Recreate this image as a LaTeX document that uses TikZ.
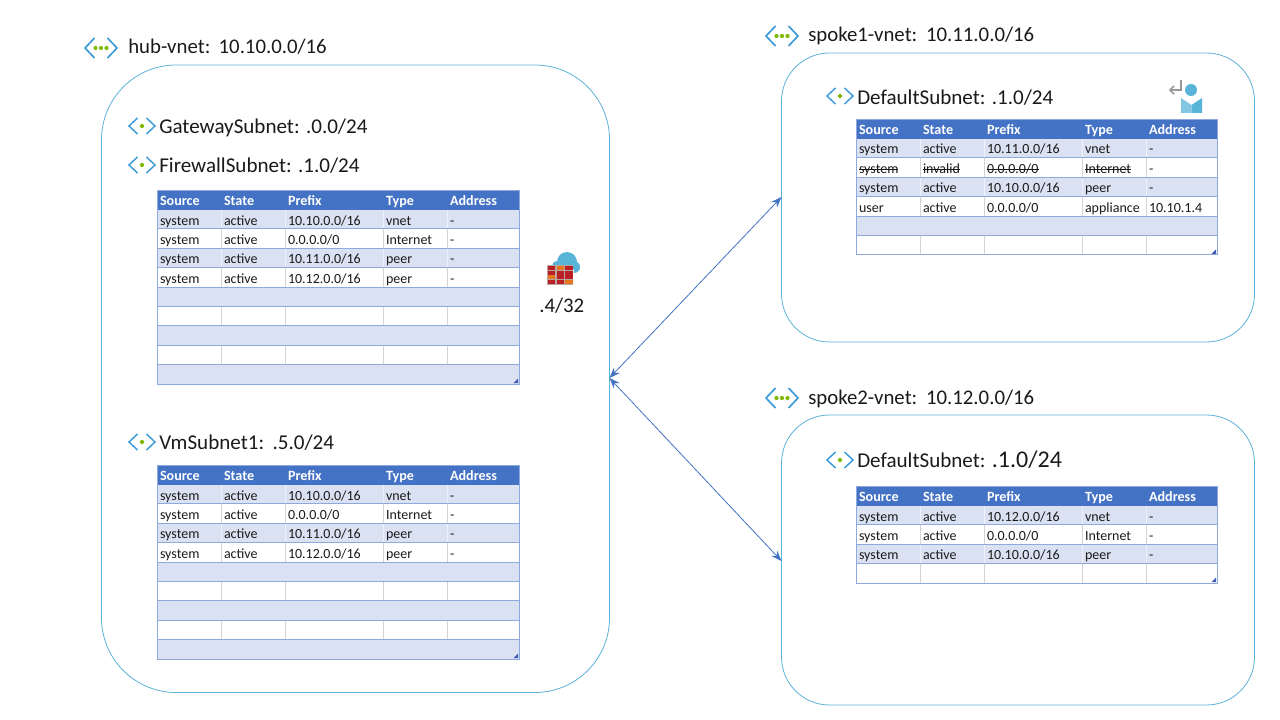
\documentclass[tikz,border=0pt]{standalone}
\usepackage{fontspec}
\setmainfont{Carlito}
\usetikzlibrary{arrows.meta}
\definecolor{netline}{HTML}{5BB2DA}
\definecolor{hdr}{HTML}{4472C4}
\definecolor{band}{HTML}{D9E1F2}
\definecolor{gridb}{HTML}{8EA9DB}
\definecolor{gridg}{HTML}{D4D4D4}
\definecolor{corner}{HTML}{3F5BB5}
\definecolor{chev}{HTML}{3C9CD8}
\definecolor{dotg}{HTML}{7FBA00}
\definecolor{arrowb}{HTML}{4472C4}
\definecolor{txt}{HTML}{1A1A1A}
\definecolor{cloudb}{HTML}{59B4D9}
\definecolor{brick}{HTML}{BA1F26}
\definecolor{brickor}{HTML}{E8761E}
\definecolor{brickg}{HTML}{B9A6A0}
\tikzset{
  x=0.75pt,y=-0.75pt,
  vnetbox/.style={draw=netline,line width=0.6pt,fill=white,rounded corners=#1},
  cell/.style={anchor=base west,inner sep=0pt,outer sep=0pt,font=\fontsize{10.5}{12}\selectfont,text=txt},
  headcell/.style={cell,font=\fontsize{10.6}{12}\selectfont\bfseries,text=white},
  title/.style={anchor=base west,inner sep=0pt,font=\fontsize{15.6}{18}\selectfont,text=txt},
  subtitle/.style={title,font=\fontsize{15.8}{19}\selectfont},
  link/.style={draw=arrowb,line width=0.6pt,{Stealth[length=8pt,width=6pt]}-{Stealth[length=8pt,width=6pt]}},
}
\newcommand\stk[1]{\setbox0\hbox{#1}\rlap{\rule[.24em]{\wd0}{.5pt}}\box0}
% table frame: rows, x, y, width
\newcommand\tblframe[4]{%
  \begin{scope}[shift={(#2,#3)}]
    \fill[hdr] (0,0) rectangle (#4,20);
    \foreach \r in {1,...,9}{
      \pgfmathsetmacro\ya{\r*19.4+0.6}
      \pgfmathsetmacro\yb{(\r+1)*19.4}
      \pgfmathtruncatemacro\odd{mod(\r,2)}
      \ifnum\r<\numexpr #1\relax
        \ifnum\odd=1
          \fill[band] (0,\ya) rectangle (#4,\yb);
          \ifnum\r<5
            \foreach \c in {64,128,226,290}{\draw[band!45!white,line width=0.35pt] (\c,\ya) -- (\c,\yb);}
          \fi
        \else
          \foreach \c in {64,128,226,290}{\draw[gridg,line width=0.5pt] (\c,\ya) -- (\c,\yb);}
        \fi
        \draw[gridb,line width=0.6pt] (0,\yb) -- (#4,\yb);
      \fi
    }
    \pgfmathsetmacro\yend{#1*19.4}
    \draw[gridb,line width=0.6pt] (0,0) rectangle (#4,\yend);
    \fill[corner] (#4-5.5,\yend-1) -- (#4-1,\yend-5.5) -- (#4-1,\yend-1) -- cycle;
    \fill[corner] (#4-3.5,\yend-3.5) rectangle (#4-1,\yend-1);
  \end{scope}}
% row: name, table x, table y, row, style, four cells
\newcommand\trow[9]{%
  \begin{scope}[shift={(#2,#3)}]
    \pgfmathsetmacro\yb{#4*19.4+15.6}
    \node[#5] (#1a) at (3,\yb) {#6};
    \node[#5] (#1b) at (67,\yb) {#7};
    \node[#5] (#1c) at (131,\yb) {#8};
    \node[#5] (#1d) at (229,\yb) {#9};
  \end{scope}}
\newcommand\tlast[6]{%
  \begin{scope}[shift={(#2,#3)}]
    \pgfmathsetmacro\yb{#4*19.4+15.6}
    \node[#5] (#1e) at (293,\yb) {#6};
  \end{scope}}
\newcommand\thead[3]{%
  \trow{#1h}{#2}{#3}{0}{headcell}{Source}{State}{Prefix}{Type}\tlast{#1h}{#2}{#3}{0}{headcell}{Address}}
% icons
\newcommand\vneticon[2]{%
  \begin{scope}[shift={(#1,#2)}]
    \draw[chev,line width=1.25pt,line join=miter] (-6.5,-10) -- (-16,0) -- (-6.5,10);
    \draw[chev,line width=1.25pt,line join=miter] (6.5,-10) -- (16,0) -- (6.5,10);
    \foreach \dx in {-5.5,0,5.5}{\fill[dotg] (\dx,0) circle (2.1);}
  \end{scope}}
\newcommand\subicon[2]{%
  \begin{scope}[shift={(#1,#2)}]
    \draw[chev,line width=1.1pt] (-4.5,-8) -- (-13,0) -- (-4.5,8);
    \draw[chev,line width=1.1pt] (4.5,-8) -- (13,0) -- (4.5,8);
    \fill[dotg] (0,0) circle (2.1);
  \end{scope}}
\begin{document}
\begin{tikzpicture}
\useasboundingbox (0,0) rectangle (1280,720);
\fill[white] (0,0) rectangle (1280,720);
% boxes
\draw[vnetbox=56pt] (101.5,65) rectangle (609.5,692.5);
\draw[vnetbox=36pt] (781.5,53) rectangle (1254.5,342);
\draw[vnetbox=36pt] (781.5,415) rectangle (1254.5,705);
\coordinate (hubport) at (609.5,378);
\coordinate (sp1port) at (781.5,197);
\coordinate (sp2port) at (781.5,561);
\draw[link] (hubport) -- (sp1port);
\draw[link] (hubport) -- (sp2port);
% titles
\vneticon{101}{48}
\node[title] (hubt) at (128,54) {hub-vnet:\hspace{0.1em} 10.10.0.0/16};
\vneticon{782}{36}
\node[title] (sp1t) at (808,41.5) {spoke1-vnet:\hspace{0.12em} 10.11.0.0/16};
\vneticon{782}{398}
\node[title] (sp2t) at (808,404.5) {spoke2-vnet:\hspace{0.12em} 10.12.0.0/16};
\subicon{142}{126}
\node[subtitle] (gw) at (159,133.5) {GatewaySubnet: .0.0/24};
\subicon{142}{165}
\node[subtitle] (fw) at (159,172.5) {FirewallSubnet: .1.0/24};
\subicon{142}{442}
\node[subtitle] (vm) at (159,449.5) {VmSubnet1: \hspace{0.1em}.5.0/24};
\subicon{840}{96}
\node[subtitle] (d1) at (857,104.5) {DefaultSubnet: .1.0/24};
\subicon{840}{460}
\node[subtitle] (d2) at (857,467.5) {DefaultSubnet: \fontsize{18}{21}\selectfont .1.0/24};
% firewall table
\tblframe{10}{157}{190}{362}
\thead{fa}{157}{190}
\trow{fa1}{157}{190}{1}{cell}{system}{active}{10.10.0.0/16}{vnet}\tlast{fa1}{157}{190}{1}{cell}{-}
\trow{fa2}{157}{190}{2}{cell}{system}{active}{0.0.0.0/0}{Internet}\tlast{fa2}{157}{190}{2}{cell}{-}
\trow{fa3}{157}{190}{3}{cell}{system}{active}{10.11.0.0/16}{peer}\tlast{fa3}{157}{190}{3}{cell}{-}
\trow{fa4}{157}{190}{4}{cell}{system}{active}{10.12.0.0/16}{peer}\tlast{fa4}{157}{190}{4}{cell}{-}
% vm table
\tblframe{10}{157}{465}{362}
\thead{vb}{157}{465}
\trow{vb1}{157}{465}{1}{cell}{system}{active}{10.10.0.0/16}{vnet}\tlast{vb1}{157}{465}{1}{cell}{-}
\trow{vb2}{157}{465}{2}{cell}{system}{active}{0.0.0.0/0}{Internet}\tlast{vb2}{157}{465}{2}{cell}{-}
\trow{vb3}{157}{465}{3}{cell}{system}{active}{10.11.0.0/16}{peer}\tlast{vb3}{157}{465}{3}{cell}{-}
\trow{vb4}{157}{465}{4}{cell}{system}{active}{10.12.0.0/16}{peer}\tlast{vb4}{157}{465}{4}{cell}{-}
% spoke1 table
\tblframe{7}{856}{119}{361}
\thead{sa}{856}{119}
\trow{sa1}{856}{119}{1}{cell}{system}{active}{10.11.0.0/16}{vnet}\tlast{sa1}{856}{119}{1}{cell}{-}
\trow{sa2}{856}{119}{2}{cell}{\stk{system}}{\stk{invalid}}{\stk{0.0.0.0/0}}{\stk{Internet}}\tlast{sa2}{856}{119}{2}{cell}{-}
\trow{sa3}{856}{119}{3}{cell}{system}{active}{10.10.0.0/16}{peer}\tlast{sa3}{856}{119}{3}{cell}{-}
\trow{sa4}{856}{119}{4}{cell}{user}{active}{0.0.0.0/0}{appliance}\tlast{sa4}{856}{119}{4}{cell}{10.10.1.4}
% spoke2 table
\tblframe{5}{856}{486}{361}
\thead{sb}{856}{486}
\trow{sb1}{856}{486}{1}{cell}{system}{active}{10.12.0.0/16}{vnet}\tlast{sb1}{856}{486}{1}{cell}{-}
\trow{sb2}{856}{486}{2}{cell}{system}{active}{0.0.0.0/0}{Internet}\tlast{sb2}{856}{486}{2}{cell}{-}
\trow{sb3}{856}{486}{3}{cell}{system}{active}{10.10.0.0/16}{peer}\tlast{sb3}{856}{486}{3}{cell}{-}
% firewall icon
\begin{scope}[shift={(546,252)}]
  \fill[cloudb] (11,14) circle (5) (21,10) circle (10) (28,15) circle (6) (10,14) rectangle (28,21);
  \fill[brickg] (1,13) rectangle (27,33);
  \foreach \r/\yy in {0/14,1/18.8,2/23.4,3/28}{
    \foreach \c/\xx in {0/2,1/10.8,2/19.4}{
      \pgfmathtruncatemacro\isor{(\r==0&&\c==1)||(\r==2&&\c==0)||(\r==3&&\c==2)}
      \ifnum\isor=1 \fill[brickor] (\xx,\yy) rectangle ++(7.3,3.7);
      \else \fill[brick] (\xx,\yy) rectangle ++(7.3,3.7);\fi
    }
  }
\end{scope}
\node[title] (fwip) at (539,312) {.4/32};
% route icon
\begin{scope}[shift={(1168,81)}]
  \draw[gray!80,line width=1.1pt] (13,-1) -- (13,9) -- (2,9);
  \draw[gray!80,line width=1.1pt] (6,5) -- (2,9) -- (6,13);
  \fill[cloudb] (23,9) circle (6);
  \fill[cloudb!75] (13,17) -- (23.5,24) -- (23.5,32) -- (13,32) -- cycle;
  \fill[cloudb] (34,17) -- (23.5,24) -- (23.5,32) -- (34,32) -- cycle;
\end{scope}
\end{tikzpicture}
\end{document}
